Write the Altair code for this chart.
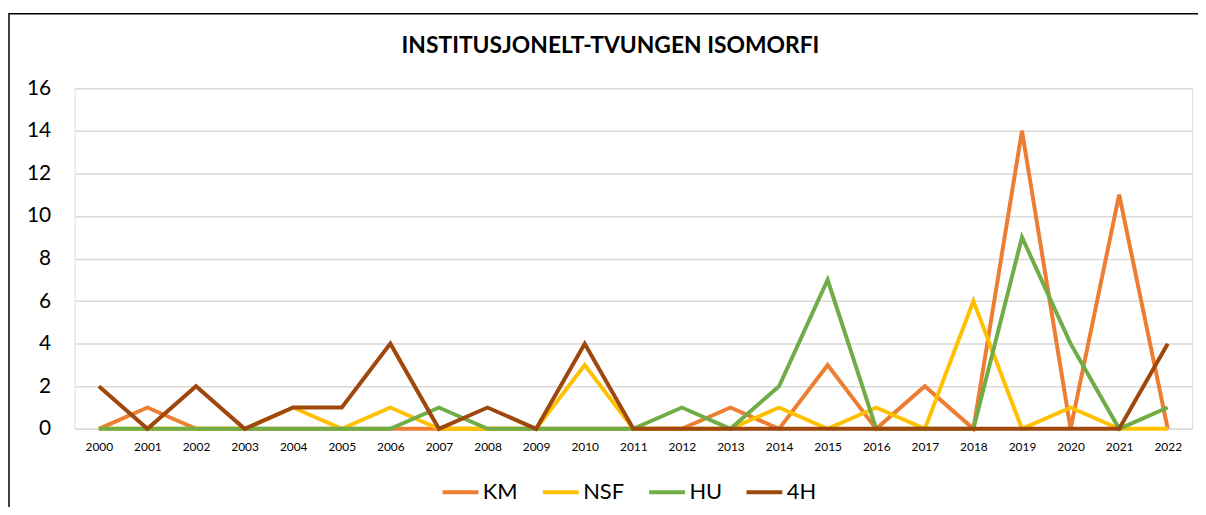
import altair as alt
import pandas as pd

years = [str(y) for y in range(2000, 2023)]
km  = [0, 1, 0, 0, 0, 0, 0, 0, 0, 0, 0, 0, 0, 1, 0, 3, 0, 2, 0, 14, 0, 11, 0]
nsf = [0, 0, 0, 0, 1, 0, 1, 0, 0, 0, 3, 0, 0, 0, 1, 0, 1, 0, 6, 0, 1, 0, 0]
hu  = [0, 0, 0, 0, 0, 0, 0, 1, 0, 0, 0, 0, 1, 0, 2, 7, 0, 0, 0, 9, 4, 0, 1]
h4  = [2, 0, 2, 0, 1, 1, 4, 0, 1, 0, 4, 0, 0, 0, 0, 0, 0, 0, 0, 0, 0, 0, 4]

series_names = ["KM", "NSF", "HU", "4H"]
series_vals = [km, nsf, hu, h4]
colors = ["#ED7D31", "#FFC000", "#70AD47", "#9E480E"]

rows = []
for order, (name, vals) in enumerate(zip(series_names, series_vals)):
    for y, v in zip(years, vals):
        rows.append({"year": y, "value": v, "series": name, "order": order})
df = pd.DataFrame(rows)

FONT = "Lato"

lines = alt.Chart(df).mark_line(strokeWidth=4, strokeJoin="miter").encode(
    x=alt.X("year:O", scale=alt.Scale(type="point", padding=0.5),
            axis=alt.Axis(title=None, labelAngle=0, labelFontSize=12, labelFont=FONT,
                          labelColor="#000000", ticks=False, domain=True,
                          domainColor="#D9D9D9", domainWidth=1.5, labelPadding=13)),
    y=alt.Y("value:Q", scale=alt.Scale(domain=[0, 16], nice=False),
            axis=alt.Axis(title=None, values=[0, 2, 4, 6, 8, 10, 12, 14, 16],
                          labelFontSize=21, labelFont=FONT, labelColor="#000000",
                          ticks=False, domain=False, gridColor="#D9D9D9",
                          gridWidth=1.5, labelPadding=24)),
    color=alt.Color("series:N",
                    scale=alt.Scale(domain=series_names, range=colors),
                    legend=alt.Legend(title=None, orient="none", legendX=368, legendY=386,
                                      direction="horizontal", symbolType="stroke",
                                      symbolSize=1300, symbolStrokeWidth=4,
                                      labelFontSize=22, labelFont=FONT,
                                      labelColor="#000000", columnPadding=16,
                                      symbolOffset=0, labelOffset=2)),
    order=alt.Order("order:Q"),
    detail="series:N",
)

frame = alt.Chart(pd.DataFrame({"a": [0]})).mark_rect(
    fill=None, stroke="#000000", strokeWidth=1.5
).encode(
    x=alt.value(-66), x2=alt.value(1140), y=alt.value(-75), y2=alt.value(440)
)

chart = alt.layer(frame, lines).properties(
    width=1125, height=343,
    padding={"left": 67, "top": 79, "right": 6, "bottom": 77},
    autosize=alt.AutoSizeParams(type="none"),
    title=alt.TitleParams("INSTITUSJONELT-TVUNGEN ISOMORFI", font=FONT, fontSize=23,
                          fontWeight="bold", color="#000000", anchor="middle",
                          dx=-23, offset=-45),
).configure_view(stroke=None).configure(background="#FFFFFF")

chart.save("out.html", embed_options={"renderer": "svg", "actions": False})
